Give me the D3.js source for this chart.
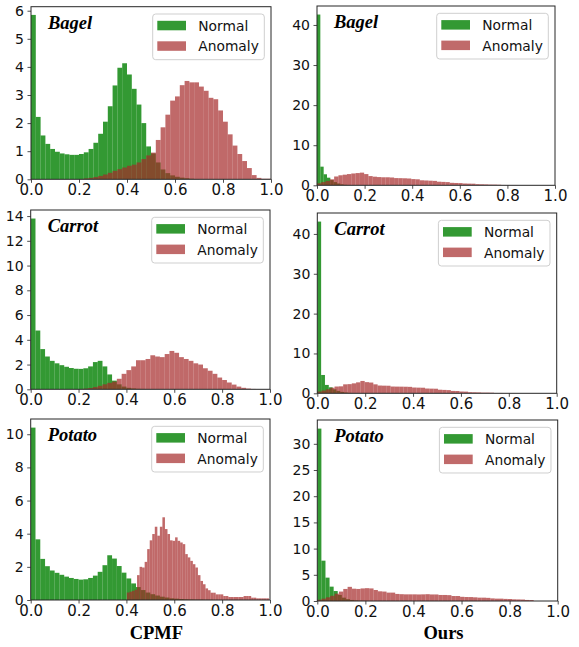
<!DOCTYPE html>
<html>
<head>
<meta charset="utf-8">
<script src="https://cdnjs.cloudflare.com/ajax/libs/d3/7.8.5/d3.min.js"></script>
<style>
  body { margin: 0; background: #fff; }
  svg { display: block; }
</style>
</head>
<body>
<div id="chart"></div>
<script>
// ---- data ----
const categories = ["Bagel", "Carrot", "Potato"];
const methods = ["CPMF", "Ours"];
const seriesNames = ["Normal", "Anomaly"];
const xTicks = [0, 0.2, 0.4, 0.6, 0.8, 1.0];

// histogram bins as [first edge, bin width]
const cpmfBin = [0, 0.02];
const potatoCpmfAnomalyBin = [0.402, 0.0106];
const bagelOursNormalBin = [0, 0.014];
const carrotOursNormalBin = [0, 0.016];
const potatoOursNormalBin = [0, 0.017];
const oursAnomalyBin = [0, 0.018];

// densities per bin
const bagelCpmfNormal = [5.85, 2.22, 1.56, 1.26, 1.08, 0.98, 0.92, 0.89, 0.87, 0.87, 0.9, 0.96, 1.08, 1.3, 1.62, 2.05, 2.6, 3.34, 3.97, 4.13,
  3.73, 3.22, 2.66, 2.0, 1.17, 0.92, 0.6, 0.35, 0.22, 0.14, 0.09, 0.06, 0.04, 0.02, 0.01];
const bagelCpmfAnomaly = [0, 0, 0, 0, 0, 0, 0, 0, 0, 0, 0.01, 0.03, 0.05, 0.08, 0.12, 0.17, 0.23, 0.3, 0.36, 0.42,
  0.48, 0.52, 0.6, 0.72, 0.85, 0.95, 1.4, 1.85, 2.3, 2.8, 2.95, 3.35, 3.5, 3.45, 3.45, 3.3, 3.15, 2.9, 2.85, 2.45,
  2.05, 1.6, 1.2, 0.9, 0.65, 0.4, 0.15, 0.05, 0.02, 0.02];
const carrotCpmfNormal = [13.8, 4.75, 3.25, 2.65, 2.3, 2.1, 1.95, 1.82, 1.72, 1.66, 1.65, 1.7, 1.85, 2.2, 2.3, 1.85, 1.2, 0.7, 0.4, 0.22,
  0.12, 0.07, 0.04, 0.03, 0.02, 0.01];
const carrotCpmfAnomaly = [0, 0, 0, 0, 0, 0, 0, 0, 0, 0, 0.02, 0.05, 0.1, 0.18, 0.28, 0.4, 0.52, 0.62, 0.85, 1.25,
  1.55, 1.85, 2.35, 2.35, 2.45, 2.75, 2.65, 2.6, 2.85, 3.1, 2.95, 2.6, 2.45, 2.3, 2.1, 2.0, 1.7, 1.5, 1.25, 0.95,
  0.75, 0.55, 0.38, 0.22, 0.12, 0.06, 0.03, 0.01];
const potatoCpmfNormal = [10.4, 3.66, 2.48, 2.04, 1.78, 1.64, 1.52, 1.41, 1.33, 1.27, 1.23, 1.25, 1.33, 1.47, 1.7, 2.1, 2.7, 2.5, 2.05, 1.65,
  1.3, 1.0, 0.78, 0.6, 0.45, 0.35, 0.27, 0.2, 0.15, 0.1, 0.08, 0.06, 0.04, 0.03, 0.02, 0.02, 0.01, 0.01];
const potatoCpmfAnomaly = [0.45, 0.5, 0.55, 0.62, 1.5, 2.0, 1.96, 2.3, 3.07, 3.6, 3.98, 4.42, 3.88, 4.42, 4.99, 4.28, 3.98, 3.6, 3.57, 3.78,
  3.57, 3.47, 3.37, 2.77, 2.57, 2.36, 2.16, 1.96, 1.5, 1.15, 0.95, 0.7, 0.59, 0.44, 0.44, 0.34, 0.34, 0.34, 0.24, 0.24,
  0.18, 0.18, 0.18, 0.18, 0.18, 0.18, 0.24, 0.24, 0.24, 0.14, 0.14, 0.1, 0.1, 0.1, 0.1, 0.1];

const bagelOursNormal = [42.6, 4.65, 2.75, 1.9, 1.3, 0.8, 0.45, 0.25, 0.12, 0.06, 0.03, 0.01];
const bagelOursAnomaly = [0.5, 0.8, 1.1, 1.5, 2.2, 2.5, 2.65, 2.8, 2.95, 3.05, 3.16, 2.8, 2.3, 2.15, 2.05, 2.0, 2.0, 1.95, 1.8, 1.78,
  1.75, 1.7, 1.55, 1.5, 1.25, 1.2, 1.15, 1.1, 0.9, 0.85, 0.8, 0.62, 0.58, 0.55, 0.45, 0.42, 0.4, 0.28, 0.25, 0.22,
  0.18, 0.17, 0.14, 0.08, 0.05, 0.03, 0.02, 0.01, 0.01, 0.01];
const carrotOursNormal = [43.1, 4.6, 2.1, 1.5, 1.0, 0.6, 0.35, 0.2, 0.1, 0.05, 0.03, 0.01];
const carrotOursAnomaly = [0.45, 0.7, 1.0, 1.4, 1.7, 1.75, 2.25, 2.3, 2.5, 2.75, 3.1, 2.8, 2.7, 2.25, 1.95, 1.92, 1.9, 1.7, 1.68, 1.67,
  1.65, 1.62, 1.45, 1.42, 1.4, 1.2, 1.17, 1.15, 0.9, 0.85, 0.8, 0.6, 0.58, 0.45, 0.42, 0.28, 0.25, 0.22, 0.17, 0.17,
  0.15, 0.08, 0.08, 0.05, 0.03, 0.02, 0.01];
const potatoOursNormal = [32.9, 7.7, 4.46, 2.74, 1.9, 1.15, 0.64, 0.35, 0.2, 0.1, 0.05, 0.03, 0.01];
const potatoOursAnomaly = [0.25, 0.45, 0.7, 1.0, 1.4, 1.8, 2.3, 2.7, 2.35, 2.3, 2.4, 2.45, 2.4, 2.1, 1.85, 1.8, 1.6, 1.6, 1.35, 1.3,
  1.27, 1.27, 1.27, 1.25, 1.27, 1.3, 1.25, 1.25, 1.15, 1.15, 1.12, 0.95, 0.95, 0.8, 0.76, 0.75, 0.7, 0.64, 0.64, 0.6,
  0.5, 0.45, 0.45, 0.4, 0.38, 0.32, 0.3, 0.28, 0.2, 0.18];

// y tick labels
const bagelCpmfTicks = [0, 1, 2, 3, 4, 5, 6];
const carrotCpmfTicks = [0, 2, 4, 6, 8, 10, 12, 14];
const potatoCpmfTicks = [0, 2, 4, 6, 8, 10];
const bagelOursTicks = [0, 10, 20, 30, 40];
const carrotOursTicks = [0, 10, 20, 30, 40];
const potatoOursTicks = [0, 5, 10, 15, 20, 25, 30];

// ---- table for drawing ----
const panels = [
  { cat: 0, method: 0, normal: bagelCpmfNormal, normalBin: cpmfBin, anomaly: bagelCpmfAnomaly, anomalyBin: cpmfBin, yTicks: bagelCpmfTicks },
  { cat: 0, method: 1, normal: bagelOursNormal, normalBin: bagelOursNormalBin, anomaly: bagelOursAnomaly, anomalyBin: oursAnomalyBin, yTicks: bagelOursTicks },
  { cat: 1, method: 0, normal: carrotCpmfNormal, normalBin: cpmfBin, anomaly: carrotCpmfAnomaly, anomalyBin: cpmfBin, yTicks: carrotCpmfTicks },
  { cat: 1, method: 1, normal: carrotOursNormal, normalBin: carrotOursNormalBin, anomaly: carrotOursAnomaly, anomalyBin: oursAnomalyBin, yTicks: carrotOursTicks },
  { cat: 2, method: 0, normal: potatoCpmfNormal, normalBin: cpmfBin, anomaly: potatoCpmfAnomaly, anomalyBin: potatoCpmfAnomalyBin, yTicks: potatoCpmfTicks },
  { cat: 2, method: 1, normal: potatoOursNormal, normalBin: potatoOursNormalBin, anomaly: potatoOursAnomaly, anomalyBin: oursAnomalyBin, yTicks: potatoOursTicks }
];

// axes rectangles in page pixels: [left, right, top, bottom]
const boxes = [
  [31, 271, 6.7, 179.3],
  [317, 555, 6, 185.3],
  [30.7, 270, 210, 389.3],
  [317.3, 556.7, 213, 393.3],
  [30.7, 270, 419, 600],
  [317.3, 557.7, 420, 601]
];

const colors = ["green", "brown"];
const alphas = [0.8, 0.7];
const legendFill = ["#339933", "#c06a6a"];
const tickFont = '"DejaVu Sans", "Liberation Sans", sans-serif';
const serifFont = '"Liberation Serif", "Times New Roman", serif';

const svg = d3.select("#chart")
  .append("svg")
  .attr("width", 579)
  .attr("height", 647);

panels.forEach((p, i) => {
  const [left, right, top, bottom] = boxes[i];

  const x = d3.scaleLinear().domain([0, 1]).range([left, right]);
  const yMax = d3.max(p.normal.concat(p.anomaly)) * 1.05; // matplotlib-like margin
  const y = d3.scaleLinear().domain([0, yMax]).range([bottom, top]);

  const g = svg.append("g");

  svg.append("clipPath")
    .attr("id", "clip" + i)
    .append("rect")
    .attr("x", left).attr("y", top)
    .attr("width", right - left).attr("height", bottom - top);

  // bars: normal first, anomaly over it
  [[p.normal, p.normalBin], [p.anomaly, p.anomalyBin]].forEach(([vals, bin], s) => {
    g.append("g")
      .attr("clip-path", `url(#clip${i})`)
      .selectAll("rect")
      .data(vals)
      .enter()
      .append("rect")
      .attr("x", (d, k) => x(bin[0] + k * bin[1]))
      .attr("width", (d, k) => x(bin[0] + (k + 1) * bin[1]) - x(bin[0] + k * bin[1]))
      .attr("y", (d) => y(d))
      .attr("height", (d) => y(0) - y(d))
      .attr("fill", colors[s])
      .attr("fill-opacity", alphas[s]);
  });

  // x axis
  const xAxis = g.append("g")
    .attr("transform", `translate(0,${bottom})`)
    .call(d3.axisBottom(x).tickValues(xTicks).tickFormat(d3.format(".1f")).tickSize(3.5).tickPadding(1.5));
  xAxis.select(".domain").remove();
  xAxis.selectAll("line").attr("stroke", "#222").attr("stroke-width", 0.8);
  xAxis.selectAll("text")
    .attr("font-family", tickFont).attr("font-size", "15px").attr("fill", "#111");

  // y axis
  const yAxis = g.append("g")
    .attr("transform", `translate(${left},0)`)
    .call(d3.axisLeft(y).tickValues(p.yTicks).tickFormat(d3.format("d")).tickSize(3.5).tickPadding(3.5));
  yAxis.select(".domain").remove();
  yAxis.selectAll("line").attr("stroke", "#222").attr("stroke-width", 0.8);
  yAxis.selectAll("text")
    .attr("font-family", tickFont).attr("font-size", "14px").attr("fill", "#111");

  // frame
  g.append("rect")
    .attr("x", left).attr("y", top)
    .attr("width", right - left).attr("height", bottom - top)
    .attr("fill", "none")
    .attr("stroke", "#262626")
    .attr("stroke-width", 1);

  // title
  g.append("text")
    .attr("x", left + 17)
    .attr("y", top + 22)
    .attr("font-family", serifFont)
    .attr("font-weight", "bold")
    .attr("font-style", "italic")
    .attr("font-size", "18.5px")
    .attr("fill", "#000")
    .text(categories[p.cat]);

  // legend
  const lx = right - 118.3;
  const ly = top + 7.3;
  const legend = g.append("g").attr("transform", `translate(${lx},${ly})`);
  legend.append("rect")
    .attr("width", 111.6).attr("height", 45.7)
    .attr("rx", 3)
    .attr("fill", "#fff").attr("fill-opacity", 0.8)
    .attr("stroke", "#cfcfcf").attr("stroke-width", 1);
  seriesNames.forEach((name, s) => {
    legend.append("rect")
      .attr("x", 4.6).attr("y", 6.8 + s * 20.5)
      .attr("width", 28.7).attr("height", 9.5)
      .attr("fill", legendFill[s]);
    legend.append("text")
      .attr("x", 45.6).attr("y", 16.7 + s * 20.6)
      .attr("font-family", tickFont)
      .attr("font-size", "13.8px")
      .attr("fill", "#111")
      .text(name);
  });

  // method label under the bottom row
  if (p.cat === categories.length - 1) {
    g.append("text")
      .attr("x", (left + right) / 2 + 6)
      .attr("y", 639)
      .attr("text-anchor", "middle")
      .attr("font-family", serifFont)
      .attr("font-weight", "bold")
      .attr("font-size", "18.5px")
      .attr("fill", "#000")
      .text(methods[p.method]);
  }
});
</script>
</body>
</html>
